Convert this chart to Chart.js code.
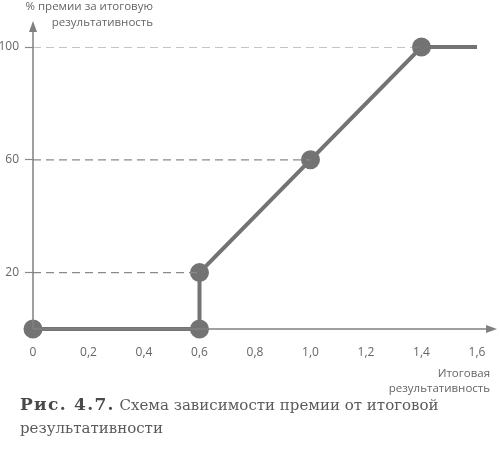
<!DOCTYPE html>
<html>
<head>
<meta charset="utf-8">
<script src="https://cdn.jsdelivr.net/npm/chart.js@4"></script>
<style>
  body { margin: 0; background: #fff; }
  #wrap { position: relative; width: 500px; height: 452px; }
  #myChart { position: absolute; left: 0; top: 0; }
  #caption {
    position: absolute; left: 20px; top: 393px; width: 470px;
    font-family: "DejaVu Serif", serif; font-size: 15px; line-height: 23px;
    color: #5a5a5a;
  }
  #caption b { color: #4a4a4a; font-size: 17px; letter-spacing: 1.3px; }
</style>
</head>
<body>
<div id="wrap">
  <canvas id="myChart" width="500" height="452"></canvas>
  <div id="caption"><b>Рис. 4.7.</b> Схема зависимости премии от итоговой результативности</div>
</div>
<script>
// data
var resultX = [0, 0.6, 0.6, 1.0, 1.4, 1.6];
var bonusY = [0, 0, 20, 60, 100, 100];
var markerShown = [true, true, true, true, true, false];

var guideY = [20, 60, 100];
var guideXEnd = [0.6, 1.0, 1.4];

var xTickValues = [0, 0.2, 0.4, 0.6, 0.8, 1.0, 1.2, 1.4, 1.6];
var xTickLabels = ['0', '0,2', '0,4', '0,6', '0,8', '1,0', '1,2', '1,4', '1,6'];
var yTickValues = [20, 60, 100];
var yTickLabels = ['20', '60', '100'];

var grey = '#737373';
var axisGrey = '#808080';
var textGrey = '#666666';

var mainPoints = resultX.map(function (x, i) { return { x: x, y: bonusY[i] }; });

var datasets = guideY.map(function (y, i) {
    return {
        data: [{ x: 0, y: y }, { x: guideXEnd[i], y: y }],
        borderColor: '#8a8a8a',
        borderWidth: 1.2,
        borderDash: [8, 5],
        pointRadius: 0,
        showLine: true,
        fill: false
    };
});
datasets.push({
    data: mainPoints,
    borderColor: grey,
    backgroundColor: grey,
    borderWidth: 4,
    pointRadius: markerShown.map(function (m) { return m ? 7.5 : 0; }),
    pointHoverRadius: 7.5,
    showLine: true,
    clip: false,
    fill: false
});

// axes with arrows and the two axis titles
var axesPlugin = {
    id: 'axesArrows',
    afterDatasetsDraw: function (chart) {
        var ctx = chart.ctx;
        var x0 = chart.scales.x.getPixelForValue(0);
        var y0 = chart.scales.y.getPixelForValue(0);
        var a = chart.chartArea;
        ctx.save();
        ctx.strokeStyle = axisGrey;
        ctx.fillStyle = axisGrey;
        ctx.lineWidth = 1.5;
        // y axis
        ctx.beginPath();
        ctx.moveTo(x0, y0);
        ctx.lineTo(x0, a.top - 18);
        ctx.stroke();
        ctx.beginPath();
        ctx.moveTo(x0, a.top - 26);
        ctx.lineTo(x0 - 4, a.top - 15);
        ctx.lineTo(x0 + 4, a.top - 15);
        ctx.closePath();
        ctx.fill();
        // x axis
        ctx.beginPath();
        ctx.moveTo(x0, y0);
        ctx.lineTo(a.right + 12, y0);
        ctx.stroke();
        ctx.beginPath();
        ctx.moveTo(a.right + 20, y0);
        ctx.lineTo(a.right + 9, y0 - 4);
        ctx.lineTo(a.right + 9, y0 + 4);
        ctx.closePath();
        ctx.fill();
        // titles
        ctx.fillStyle = textGrey;
        ctx.font = '11.5px "Open Sans"';
        ctx.textAlign = 'right';
        ctx.textBaseline = 'middle';
        ctx.fillText('% премии за итоговую', 153, 7);
        ctx.fillText('результативность', 153, 23);
        ctx.fillText('Итоговая', 490, 374);
        ctx.fillText('результативность', 490, 389);
        ctx.restore();
    }
};

var ctx_chart = document.getElementById('myChart').getContext('2d');
var chart = new Chart(ctx_chart, {
    type: 'scatter',
    data: { datasets: datasets },
    options: {
        responsive: false,
        animation: false,
        events: [],
        layout: { padding: { top: 47, left: 0, right: 23, bottom: 0 } },
        plugins: {
            legend: { display: false },
            tooltip: { enabled: false }
        },
        scales: {
            x: {
                type: 'linear',
                min: 0,
                max: 1.6,
                afterFit: function (s) {
                    s.height = 123;
                    s.paddingLeft = 0;
                    s.paddingRight = 0;
                },
                afterBuildTicks: function (s) {
                    s.ticks = xTickValues.map(function (v) { return { value: v }; });
                },
                ticks: {
                    padding: 16,
                    color: textGrey,
                    font: { family: 'Open Sans', size: 12 },
                    callback: function (v, i) { return xTickLabels[i]; }
                },
                grid: { display: false, drawTicks: false },
                border: { display: false }
            },
            y: {
                min: 0,
                max: 100,
                afterFit: function (s) {
                    s.width = 33;
                    s.paddingTop = 0;
                    s.paddingBottom = 0;
                },
                afterBuildTicks: function (s) {
                    s.ticks = yTickValues.map(function (v) { return { value: v }; });
                },
                ticks: {
                    padding: 6,
                    color: textGrey,
                    font: { family: 'Open Sans', size: 12 },
                    callback: function (v, i) { return yTickLabels[i]; }
                },
                grid: {
                    drawOnChartArea: false,
                    tickLength: 8,
                    tickColor: '#8a8a8a',
                    tickWidth: 1.2
                },
                border: { display: false }
            }
        }
    },
    plugins: [axesPlugin]
});
</script>
</body>
</html>
